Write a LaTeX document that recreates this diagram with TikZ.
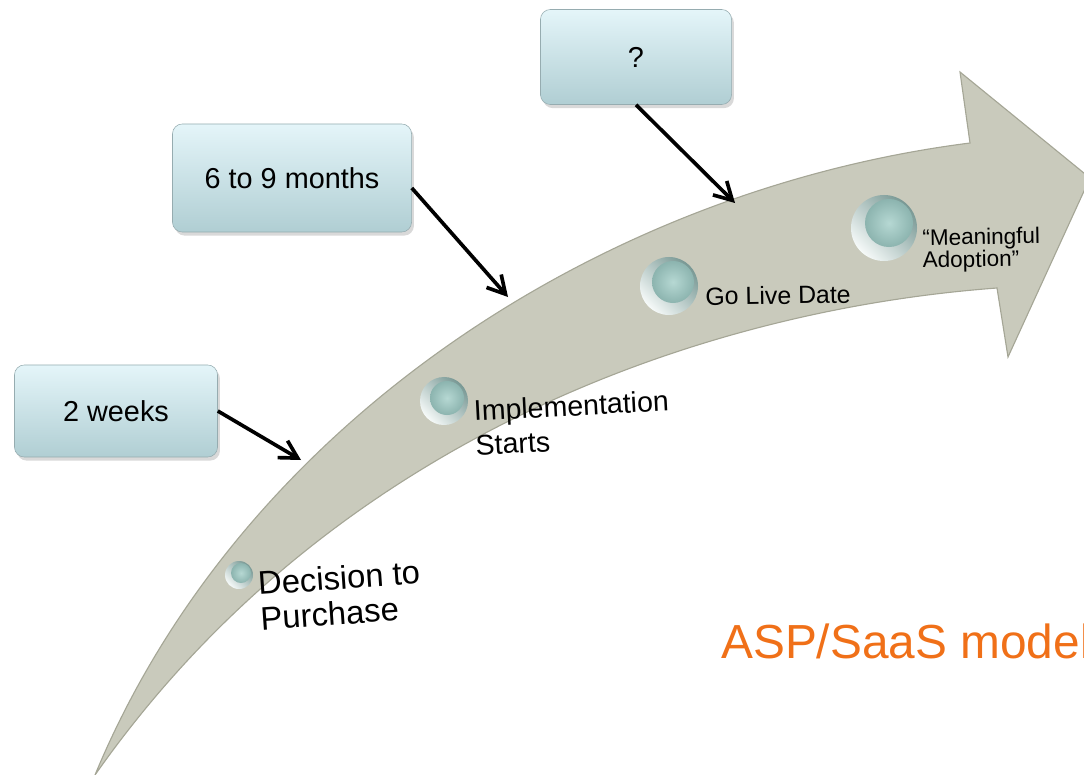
\documentclass[tikz,border=0pt]{standalone}
\usepackage{fontspec}
\setmainfont{Liberation Sans}
\usepackage{tikz}
\usetikzlibrary{calc}
\usetikzlibrary{arrows.meta}
\usetikzlibrary{shadows}
\usetikzlibrary{positioning}
\definecolor{shaft}{RGB}{201,202,188}
\definecolor{shaftedge}{RGB}{165,166,150}
\definecolor{boxtop}{RGB}{228,245,249}
\definecolor{boxbot}{RGB}{176,206,211}
\definecolor{boxedge}{RGB}{150,172,176}
\definecolor{ringlo}{RGB}{246,250,249}
\definecolor{ringhi}{RGB}{120,152,148}
\definecolor{corein}{RGB}{182,216,211}
\definecolor{coreout}{RGB}{140,180,175}
\definecolor{saas}{RGB}{240,112,24}
\tikzset{box/.style={rectangle,rounded corners=7pt,draw=boxedge,top color=boxtop,bottom color=boxbot,drop shadow={opacity=0.3,shadow xshift=0.6mm,shadow yshift=-0.9mm},font=\fontsize{20.5}{24}\selectfont}}
\tikzset{ring/.style={circle,inner sep=0pt,top color=ringhi,bottom color=ringlo,shading angle=-45}}
\tikzset{core/.style={circle,inner sep=0pt,inner color=corein,outer color=coreout}}
\tikzset{lbl/.style={align=left,inner sep=0pt,anchor=north west}}
\tikzset{link/.style={line width=2.6pt,-{Straight Barb[length=4.4mm,width=4.9mm]}}}

\begin{document}
\begin{tikzpicture}[x=0.025cm, y=-0.025cm]
    \clip (0,0) rectangle (1084,775);
    % the big curved arrow
    \filldraw[fill=shaft, draw=shaftedge, line width=0.8pt]
        (95,775) .. controls (240,425) and (600,190) .. (970,143)
        -- (960,72) -- (1090,178) -- (1008,357) -- (997,288)
        .. controls (700,310) and (330,440) .. (95,775) -- cycle;
    % milestones
    \node[ring, minimum size=0.7cm] (d1) at (239,575) {};
    \node[core, minimum size=0.5cm] (c1) at (241,573) {};
    \node[ring, minimum size=1.2cm] (d2) at (444,401) {};
    \node[core, minimum size=0.85cm] (c2) at (447,398) {};
    \node[ring, minimum size=1.45cm] (d3) at (669,286) {};
    \node[core, minimum size=1.05cm] (c3) at (673,282) {};
    \node[ring, minimum size=1.65cm] (d4) at (884,228) {};
    \node[core, minimum size=1.2cm] (c4) at (889,223) {};
    \node[lbl, font=\fontsize{23.3}{25}\selectfont, rotate=4] (decide) at (257,571) {Decision to\\Purchase};
    \node[lbl, font=\fontsize{20.3}{24.5}\selectfont, rotate=3] (impl) at (473,400) {Implementation\\Starts};
    \node[lbl, font=\fontsize{17.7}{20}\selectfont, rotate=1] (golive) at (705,287) {Go Live Date};
    \node[lbl, font=\fontsize{16}{14.5}\selectfont, rotate=1] (adopt) at (922,229) {“Meaningful\\Adoption”};
    % durations
    \node[box, minimum width=5.075cm, minimum height=2.3cm] (wk) at (116,411) {2 weeks};
    \node[box, minimum width=5.975cm, minimum height=2.7cm] (mo) at (292,178) {6 to 9 months};
    \node[box, minimum width=4.775cm, minimum height=2.375cm] (qm) at (636,57) {?};
    \coordinate (e1) at (301,460);
    \coordinate (e2) at (508,297);
    \coordinate (e3) at (735,203);
    \draw[link] (wk.east) -- (e1);
    \draw[link] ([yshift=-0.25cm]mo.east) -- (e2);
    \draw[link] (qm.south) -- (e3);
    \node[lbl, text=saas, font=\fontsize{34}{40}\selectfont] (asp) at (721,624) {ASP/SaaS model};
\end{tikzpicture}
\end{document}
